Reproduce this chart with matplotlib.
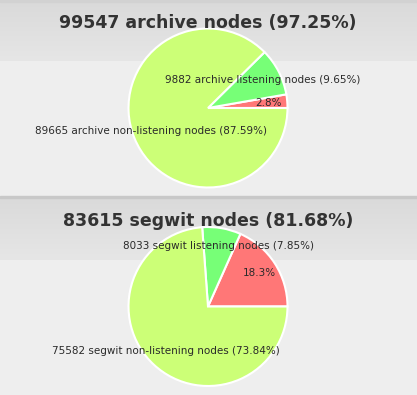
import numpy as np
import matplotlib
matplotlib.use("Agg")
import matplotlib.pyplot as plt
from matplotlib.colors import LinearSegmentedColormap

W, H = 417, 395

titles = ["99547 archive nodes (97.25%)", "83615 segwit nodes (81.68%)"]

archive_pct = [2.75, 9.65, 87.59]
archive_labels = ["2.8%",
                  "9882 archive listening nodes (9.65%)",
                  "89665 archive non-listening nodes (87.59%)"]

segwit_pct = [18.32, 7.85, 73.84]
segwit_labels = ["18.3%",
                 "8033 segwit listening nodes (7.85%)",
                 "75582 segwit non-listening nodes (73.84%)"]

colors = ["#ff7777", "#77ff77", "#ccff77"]

fig = plt.figure(figsize=(W / 100, H / 100), dpi=100)

# page background, header bands
bg = fig.add_axes([0, 0, 1, 1])
bg.axis("off")
grad = np.linspace(0, 1, 64).reshape(-1, 1)
cmap = LinearSegmentedColormap.from_list("hdr", ["#dadada", "#e6e6e6"])
bg.axhspan(0, H, color="#eeeeee", zorder=0)
for top, bottom in [(2, 61), (198, 260)]:
    bg.imshow(grad, cmap=cmap, extent=[0, W, bottom, top], aspect="auto", zorder=1)
bg.axhspan(0, 2, color="#d2d2d2", zorder=2)
bg.axhspan(195.5, 198, color="#c8c8c8", zorder=2)
bg.set_xlim(0, W)
bg.set_ylim(H, 0)

panels = [
    (108, 22.5, titles[0], archive_pct, archive_labels),
    (306.5, 221, titles[1], segwit_pct, segwit_labels),
]

for cy, ty, title, vals, labels in panels:
    ax = fig.add_axes([(208 - 80) / W, (H - cy - 80) / H, 160 / W, 160 / H])
    ax.pie(vals, colors=colors, labels=labels, startangle=0, counterclock=True,
           radius=79.5 / 80, labeldistance=0.77,
           wedgeprops=dict(edgecolor="white", linewidth=1.5),
           textprops=dict(ha="center", va="center", fontsize=7.5, color="#2a2a2a"))
    ax.set_xlim(-1, 1)
    ax.set_ylim(-1, 1)
    fig.text(208 / W, 1 - ty / H, title, ha="center", va="center",
             fontsize=12.5, fontweight="bold", color="#333333")

fig.savefig("out.png", dpi=100)
